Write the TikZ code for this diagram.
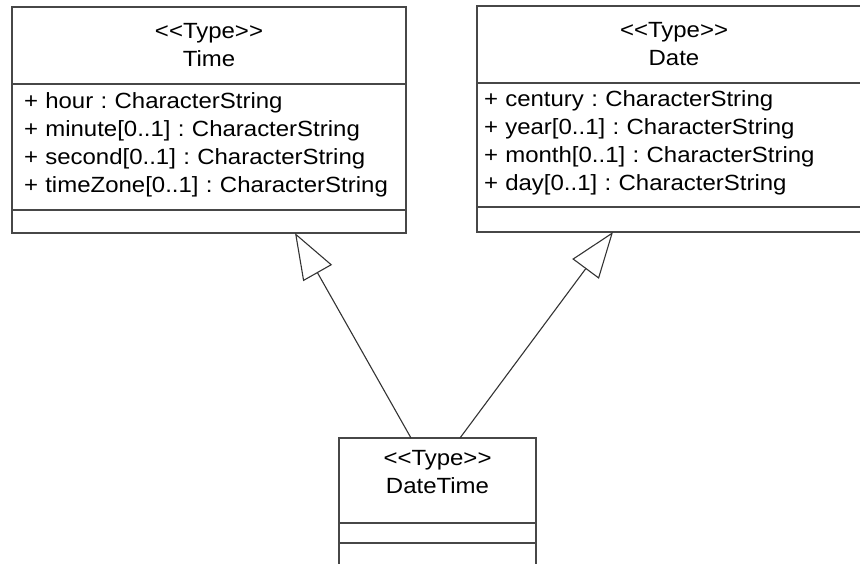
\documentclass[tikz,border=0pt]{standalone}
\usepackage{fontspec}
\setmainfont{Liberation Sans}[Ligatures=TeXOff,FakeStretch=1.09]
\usetikzlibrary{arrows.meta}

\begin{document}
\begin{tikzpicture}
[x=1pt,y=-1pt,%
  classLine/.style={draw=black!72,line width=1.2pt,outer sep=0pt},%
  headPart/.style={classLine,anchor=north west,inner sep=0pt,minimum width=394pt,minimum height=77pt,align=center},%
  attrPart/.style={classLine,anchor=north west,inner ysep=0pt,align=left,text height=12pt},%
  opPart/.style={classLine,anchor=north west,inner sep=0pt,minimum width=394pt},%
  inheritLine/.style={draw=black!80,line width=1.1pt,-{Triangle[open,length=46pt,width=33pt]}},%
  font=\fontsize{22}{28}\selectfont\frenchspacing]
\clip (0,0) rectangle (860,564);
%% class names
\foreach \cname/\x/\y/\title in {time/12/7/Time, date/477/6/Date}
{
  \node (\cname head) at (\x,\y) [headPart] {<<Type>>\\\title};
}
\node (dthead) at (339,438) [headPart,minimum width=197pt,minimum height=85pt,text depth=17pt] {<<Type>>\\DateTime};
%% attributes
\node (timeattr) at (timehead.south west) [attrPart,inner xsep=12pt,text width=370pt,minimum height=126pt]
  {+ hour : CharacterString\\+ minute[0..1] : CharacterString\\+ second[0..1] : CharacterString\\+ timeZone[0..1] : CharacterString};
\node (dateattr) at (datehead.south west) [attrPart,inner xsep=7pt,text width=380pt,minimum height=124pt]
  {+ century : CharacterString\\+ year[0..1] : CharacterString\\+ month[0..1] : CharacterString\\+ day[0..1] : CharacterString};
\node (dtattr) at (dthead.south west) [opPart,minimum width=197pt,minimum height=20pt] {};
%% operations
\node (timeop) at (timeattr.south west) [opPart,minimum height=23pt] {};
\node (dateop) at (dateattr.south west) [opPart,minimum height=25pt] {};
\node (dtop) at (dtattr.south west) [opPart,minimum width=197pt,minimum height=50pt] {};
%% generalization arrows
\draw[inheritLine] ([xshift=-26.5pt]dthead.north) -- ([xshift=86pt]timeop.south);
\draw[inheritLine] ([xshift=22.5pt]dthead.north) -- ([xshift=-61pt]dateop.south);
\end{tikzpicture}
\end{document}
